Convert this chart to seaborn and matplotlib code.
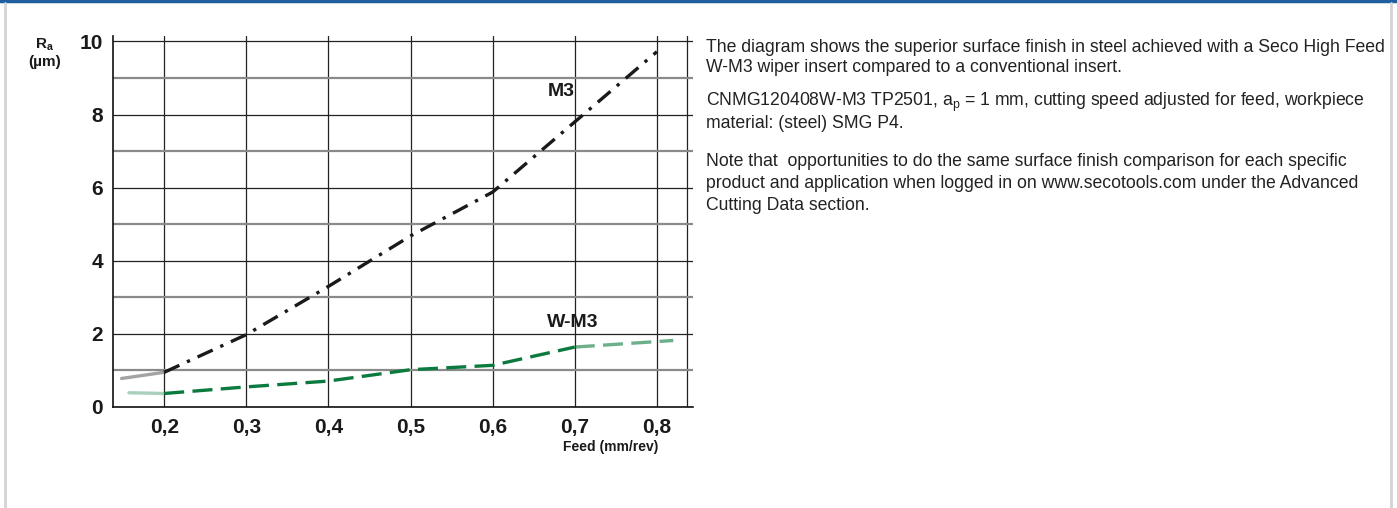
import seaborn as sns
import pandas as pd
import matplotlib.pyplot as plt

# values
m3_feed = [0.148, 0.2, 0.3, 0.4, 0.5, 0.6, 0.7, 0.8]
m3_ra = [0.78, 0.95, 1.98, 3.3, 4.68, 5.88, 7.8, 9.72]
wm3_feed = [0.157, 0.2, 0.3, 0.4, 0.5, 0.6, 0.7, 0.82]
wm3_ra = [0.39, 0.37, 0.55, 0.71, 1.02, 1.14, 1.64, 1.82]
x_ticks = [0.2, 0.3, 0.4, 0.5, 0.6, 0.7, 0.8, 0.8365]
x_labels = ['0,2', '0,3', '0,4', '0,5', '0,6', '0,7', '0,8', '']
y_major = [0, 2, 4, 6, 8, 10]
y_minor = [1, 3, 5, 7, 9]

notes = [
    'The diagram shows the superior surface finish in steel achieved with a Seco High Feed',
    'W-M3 wiper insert compared to a conventional insert.',
    r'CNMG120408W-M3 TP2501, a$_\mathregular{p}$ = 1 mm, cutting speed adjusted for feed, workpiece',
    'material: (steel) SMG P4.',
    'Note that  opportunities to do the same surface finish comparison for each specific',
    'product and application when logged in on www.secotools.com under the Advanced',
    'Cutting Data section.',
]
note_y = [47, 68, 102, 124, 161, 183, 205]

sns.set_style('white')
fam = ['Liberation Sans', 'DejaVu Sans']
plt.rcParams['font.family'] = fam

fig = plt.figure(figsize=(13.97, 5.08), dpi=100)
ax = fig.add_axes([112.5 / 1397, 1 - 407 / 508, (693 - 112.5) / 1397, (407 - 36) / 508])

m3 = pd.DataFrame({'feed': m3_feed, 'ra': m3_ra})
wm3 = pd.DataFrame({'feed': wm3_feed, 'ra': wm3_ra})

# faded ends, then main lines
sns.lineplot(data=m3.iloc[:2], x='feed', y='ra', ax=ax, color='#1a1a1a', alpha=0.4, lw=2.4)
sns.lineplot(data=wm3.iloc[:2], x='feed', y='ra', ax=ax, color='#0b7a3e', alpha=0.35, lw=2.4)
sns.lineplot(data=wm3.iloc[-2:], x='feed', y='ra', ax=ax, color='#0b7a3e', alpha=0.6, lw=2.4)
ax.lines[-1].set_dashes([6, 2.5])
sns.lineplot(data=m3.iloc[1:], x='feed', y='ra', ax=ax, color='#1a1a1a', lw=2.4)
ax.lines[-1].set_dashes([5, 2.5, 1, 2.5])
sns.lineplot(data=wm3.iloc[1:-1], x='feed', y='ra', ax=ax, color='#0b7a3e', lw=2.4)
ax.lines[-1].set_dashes([6, 2.5])

ax.set_xlim(0.137, 0.844)
ax.set_ylim(0, 10.15)
ax.set_xticks(x_ticks)
ax.set_xticklabels(x_labels)
ax.set_yticks(y_major)
ax.set_yticks(y_minor, minor=True)
ax.grid(which='major', color='#222222', lw=0.9)
ax.grid(which='minor', axis='y', color='#8a8a8a', lw=1.6)
ax.set_axisbelow(True)
for s in ['top', 'right']:
    ax.spines[s].set_visible(False)
for s in ['left', 'bottom']:
    ax.spines[s].set_color('#111111')
    ax.spines[s].set_linewidth(1.2)
ax.tick_params(axis='x', length=6, width=0.9, color='#222222', pad=2)
ax.tick_params(axis='y', length=3, width=0.9, color='#222222', pad=4)
ax.tick_params(axis='y', which='minor', length=0)
for lab in ax.get_xticklabels() + ax.get_yticklabels():
    lab.set_fontweight('bold')
    lab.set_fontsize(15)
    lab.set_color('#1a1a1a')
ax.set_xlabel('')
ax.set_ylabel('')

ax.text(0.683, 8.64, 'M3', fontweight='bold', fontsize=14,
        color='#1a1a1a', ha='center', va='center')
ax.text(0.698, 2.32, 'W-M3', fontweight='bold', fontsize=14,
        color='#1a1a1a', ha='center', va='center')

fig.text(611 / 1397, 1 - 447 / 508, 'Feed (mm/rev)', fontweight='bold',
         fontsize=10, color='#1a1a1a', ha='center', va='center')
fig.text(45 / 1397, 1 - 45 / 508, r'R$_\mathregular{a}$', fontweight='bold',
         fontsize=11, color='#1a1a1a', ha='center', va='center')
fig.text(45 / 1397, 1 - 62 / 508, '(µm)', fontweight='bold',
         fontsize=11, color='#1a1a1a', ha='center', va='center')

for line, y in zip(notes, note_y):
    fig.text(706 / 1397, 1 - y / 508, line, fontsize=12.7,
             color='#222222', ha='left', va='center')

# page frame: blue top rule, grey side rules
fig.add_artist(plt.Line2D([0, 1], [1 - 1 / 508, 1 - 1 / 508], color='#1f5f9f', lw=2.5))
fig.add_artist(plt.Line2D([5 / 1397, 5 / 1397], [0, 1 - 3 / 508], color='#d4d4d4', lw=2))
fig.add_artist(plt.Line2D([1391 / 1397, 1391 / 1397], [0, 1 - 3 / 508], color='#d4d4d4', lw=2))

fig.savefig('out.png', dpi=100)
